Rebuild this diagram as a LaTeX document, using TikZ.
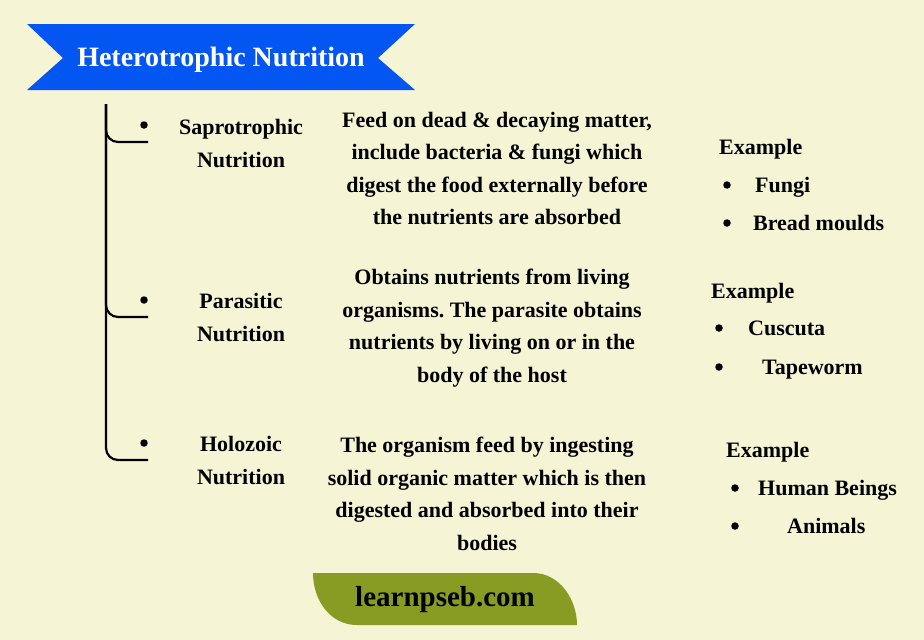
\documentclass[tikz,border=0pt]{standalone}
\usepackage{fontspec}
\setmainfont{Liberation Serif}
\usepackage{tikz}
\usetikzlibrary{positioning}
\frenchspacing

\definecolor{paper}{RGB}{245,244,213}
\definecolor{ribbon}{RGB}{3,86,242}
\definecolor{leafgreen}{RGB}{136,156,36}

\tikzset{
    txt/.style={font=\bfseries\fontsize{22}{32.5}\selectfont, align=center, inner sep=0pt},
    item/.style={txt, anchor=west, text height=17pt, text depth=2pt},
    dot/.style={circle, fill=black, minimum size=7.5pt, inner sep=0pt},
    bracket/.style={line width=2.2pt, rounded corners=12pt}
}

\begin{document}
\begin{tikzpicture}[x=1pt, y=-1pt]
    \useasboundingbox (0, 0) rectangle (924, 640);
    \fill[paper] (0, 0) rectangle (924, 640);
    \fill[ribbon] (27, 24) -- (415, 24) -- (378, 58) -- (415, 90) -- (27, 90) -- (63, 58) -- cycle;
    \node[txt, text=white, font=\bfseries\fontsize{28}{32}\selectfont] (title) at (221, 60) {Heterotrophic Nutrition};

    \coordinate (top) at (106, 104);
    \coordinate (e1) at (148, 142);
    \coordinate (e2) at (148, 317);
    \coordinate (e3) at (148, 460);
    \draw[bracket] (top) |- (e1);
    \draw[bracket] (top) |- (e2);
    \draw[bracket] (top) |- (e3);
    \node[dot] (d1) at (144, 125) {};
    \node[dot] (d2) at (144, 300) {};
    \node[dot] (d3) at (144, 443) {};

    \node[txt] (sapro) at (241, 143.5) {Saprotrophic\\Nutrition};
    \node[txt] (para) at (241, 317.5) {Parasitic\\Nutrition};
    \node[txt] (holo) at (241, 460.5) {Holozoic\\Nutrition};

    \node[txt] (saprodesc) at (497, 168.5) {Feed on dead \& decaying matter,\\include bacteria \& fungi which\\digest the food externally before\\the nutrients are absorbed};
    \node[txt] (paradesc) at (492, 328) {Obtains nutrients from living\\organisms. The parasite obtains\\nutrients by living on or in the\\body of the host};
    \node[txt] (holodesc) at (487, 494) {The organism feed by ingesting\\solid organic matter which is then\\digested and absorbed into their\\bodies};

    \node[item] (ex1) at (719, 147) {Example};
    \node[dot] (b11) at (727, 185) {};
    \node[dot] (b12) at (727, 223) {};
    \node[item, right=24pt of b11] (fungi) {Fungi};
    \node[item, right=22pt of b12] (bread) {Bread moulds};

    \node[item] (ex2) at (711, 291) {Example};
    \node[dot] (b21) at (719, 328) {};
    \node[dot] (b22) at (719, 367) {};
    \node[item, right=25pt of b21] (cuscuta) {Cuscuta};
    \node[item, right=39pt of b22] (tape) {Tapeworm};

    \node[item] (ex3) at (726, 450) {Example};
    \node[dot] (b31) at (735, 488) {};
    \node[dot] (b32) at (735, 526) {};
    \node[item, right=19pt of b31] (human) {Human Beings};
    \node[item, right=48pt of b32] (animals) {Animals};

    \fill[leafgreen] (313, 573) -- (533, 573) .. controls (560, 573) and (577, 600) .. (577, 625) -- (357, 625) .. controls (330, 625) and (313, 600) .. (313, 573) -- cycle;
    \node[txt, font=\bfseries\fontsize{29}{32}\selectfont] (site) at (445, 600) {learnpseb.com};
\end{tikzpicture}
\end{document}
